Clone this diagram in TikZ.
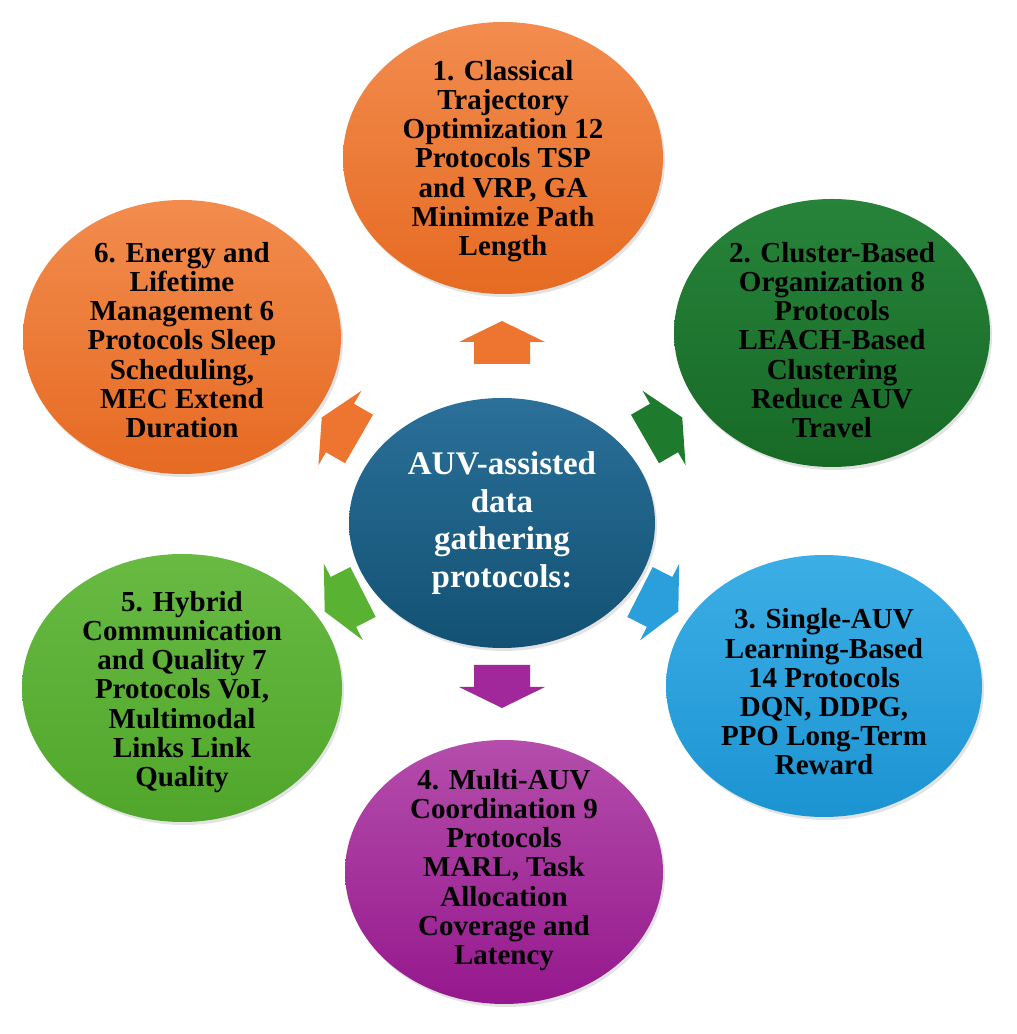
\documentclass[tikz,border=0pt]{standalone}
\usepackage{fontspec}
\setmainfont{Liberation Serif}
\usetikzlibrary{shapes.geometric,shadows}
\definecolor{orT}{HTML}{F28C4E}
\definecolor{orB}{HTML}{E66A22}
\definecolor{dgT}{HTML}{27833A}
\definecolor{dgB}{HTML}{176A26}
\definecolor{blT}{HTML}{3CAEE6}
\definecolor{blB}{HTML}{1C94D2}
\definecolor{puT}{HTML}{B44DAB}
\definecolor{puB}{HTML}{95188D}
\definecolor{lgT}{HTML}{68BA42}
\definecolor{lgB}{HTML}{50A62B}
\definecolor{ceT}{HTML}{2B7099}
\definecolor{ceB}{HTML}{125173}
\definecolor{arOr}{HTML}{EE7530}
\definecolor{arDg}{HTML}{1E7A2D}
\definecolor{arBl}{HTML}{2A9FDC}
\definecolor{arLg}{HTML}{5AB232}
\definecolor{arPu}{HTML}{A1289A}
\begin{document}
\begin{tikzpicture}[x=1pt,y=1pt,
  ell/.style={ellipse, inner sep=0pt, draw=none,
    drop shadow={opacity=0.22, shadow xshift=2pt, shadow yshift=-3pt}},
  lbl/.style={align=center, font=\fontsize{29}{29.2}\selectfont\bfseries,
    text=black, inner sep=0pt},
  clbl/.style={align=center, font=\fontsize{33}{37.7}\selectfont\bfseries,
    text=white, inner sep=0pt},
  blockarr/.pic={
    \fill[#1] (0,-28) -- (22,-28) -- (22,-43) -- (43,0) -- (22,43) -- (22,28) -- (0,28) -- cycle;
  }
]
\fill[white] (0,0) rectangle (1017,1034);
\useasboundingbox (0,0) rectangle (1017,1034);

% outer ellipses
\node[ell, minimum width=320, minimum height=272, top color=orT, bottom color=orB] (e1) at (503,876) {};
\node[ell, minimum width=316, minimum height=268, top color=dgT, bottom color=dgB] (e2) at (832,701) {};
\node[ell, minimum width=316, minimum height=262, top color=blT, bottom color=blB] (e3) at (824,348) {};
\node[ell, minimum width=318, minimum height=264, top color=puT, bottom color=puB] (e4) at (504,162) {};
\node[ell, minimum width=320, minimum height=268, top color=lgT, bottom color=lgB] (e5) at (182,346) {};
\node[ell, minimum width=318, minimum height=274, top color=orT, bottom color=orB] (e6) at (182,697) {};
% center ellipse
\node[ell, minimum width=306, minimum height=250, top color=ceT, bottom color=ceB] (ec) at (502,511) {};

% block arrows
\pic[rotate=90]  at (502,670) {blockarr={arOr}};
\pic[rotate=30]  at (645,595) {blockarr={arDg}};
\pic[rotate=-27] at (640,442) {blockarr={arBl}};
\pic[rotate=-90] at (502,369) {blockarr={arPu}};
\pic[rotate=207] at (363,442) {blockarr={arLg}};
\pic[rotate=150] at (359,595) {blockarr={arOr}};

% texts
\node[lbl] (t1) at (503,873) {1. Classical\\Trajectory\\Optimization 12\\Protocols TSP\\and VRP, GA\\Minimize Path\\Length};
\node[lbl] (t2) at (832,694) {2. Cluster-Based\\Organization 8\\Protocols\\LEACH-Based\\Clustering\\Reduce AUV\\Travel};
\node[lbl] (t3) at (824,342) {3. Single-AUV\\Learning-Based\\14 Protocols\\DQN, DDPG,\\PPO Long-Term\\Reward};
\node[lbl] (t4) at (504,164) {4. Multi-AUV\\Coordination 9\\Protocols\\MARL, Task\\Allocation\\Coverage and\\Latency};
\node[lbl] (t5) at (182,342) {5. Hybrid\\Communication\\and Quality 7\\Protocols VoI,\\Multimodal\\Links Link\\Quality};
\node[lbl] (t6) at (182,694) {6. Energy and\\Lifetime\\Management 6\\Protocols Sleep\\Scheduling,\\MEC Extend\\Duration};
\node[clbl] (tc) at (502,511) {AUV-assisted\\data\\gathering\\protocols:};
\end{tikzpicture}
\end{document}
